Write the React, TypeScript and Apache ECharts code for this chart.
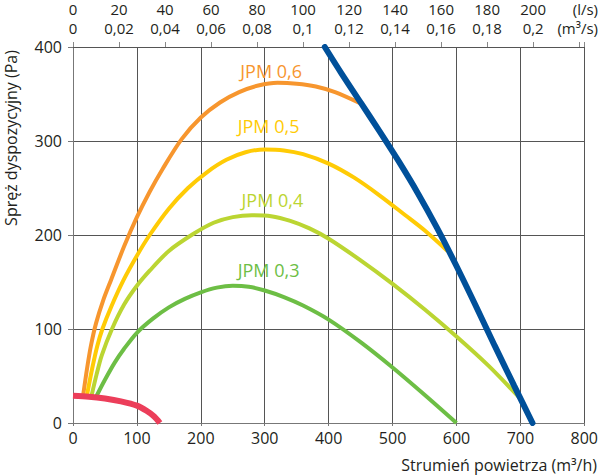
import React, { useEffect, useRef } from "react";
import * as echarts from "echarts";

// Flow (m³/h) ticks and pressure (Pa) ticks
const flowTicks = [0, 100, 200, 300, 400, 500, 600, 700, 800];
const pressureTicks = [0, 100, 200, 300, 400];
const litersPerSecondTicks = [0, 20, 40, 60, 80, 100, 120, 140, 160, 180, 200];

// JPM curves: [flow m³/h, pressure Pa]
const jpm06: number[][] = [
  [16, 30], [22, 58], [28, 82], [36, 106], [47, 130], [60, 153], [80, 188],
  [100, 219], [120, 246], [140, 270], [170, 302], [200, 325], [230, 341],
  [260, 352], [290, 359], [320, 362], [350, 361], [380, 358], [410, 352], [450, 340],
];
const jpm05: number[][] = [
  [22, 30], [30, 58], [38, 82], [46, 100], [60, 124], [79, 152], [100, 178],
  [120, 200], [150, 228], [180, 250], [210, 267], [240, 280], [270, 288],
  [300, 291], [330, 290], [360, 286], [400, 276], [440, 261], [480, 242],
  [520, 221], [550, 205], [586, 183],
];
const jpm04: number[][] = [
  [29, 29], [37, 52], [45, 72], [61, 100], [80, 126], [100, 146], [120, 162],
  [150, 183], [188, 201], [220, 213], [250, 219], [280, 221], [310, 220],
  [340, 215], [370, 207], [400, 196], [450, 173], [500, 148], [550, 121],
  [600, 92], [650, 61], [697, 28],
];
const jpm03: number[][] = [
  [37, 29], [50, 46], [65, 64], [80, 79], [100, 96], [125, 111], [150, 123],
  [175, 132], [200, 139], [225, 144], [250, 146], [275, 145], [300, 141],
  [330, 134], [360, 125], [400, 110], [450, 86], [500, 59], [550, 30], [600, 0],
];
// Upper limit (blue) and lower limit (red)
const limitMax: number[][] = [
  [394, 400], [420, 372], [450, 341], [480, 310], [510, 278], [540, 244],
  [570, 207], [600, 167], [630, 125], [660, 82], [690, 40], [719, 0],
];
const limitMin: number[][] = [
  [0, 29], [25, 28], [50, 26], [75, 23], [100, 18.5], [115, 13], [127, 7], [136, 0],
];

const curveNames = ["JPM 0,6", "JPM 0,5", "JPM 0,4", "JPM 0,3"];
const labelAnchors: number[][] = [
  [310, 375], [306, 316], [312, 237], [306, 163],
];

const COLORS = {
  jpm06: "#F7962E",
  jpm05: "#FFCB05",
  jpm04: "#BBD532",
  jpm03: "#6DBE45",
  blue: "#00509A",
  red: "#EC3E5A",
  text: "#231F20",
  grid: "#555555",
};

const FONT = "Open Sans";
const TICK_FONT = 16;
const TOP_FONT = 15;

export default function App() {
  const ref = useRef<HTMLDivElement>(null);

  useEffect(() => {
    if (!ref.current) return;
    const chart = echarts.init(ref.current, undefined, { renderer: "svg" });

    const lineSeries = (
      name: string,
      data: number[][],
      color: string,
      width: number,
      labelIdx: number,
      cap: string = "butt"
    ) => {
      const s: any = {
        name,
        type: "line",
        data,
        smooth: 0.3,
        showSymbol: false,
        symbol: "none",
        lineStyle: { color, width, cap },
        xAxisIndex: 0,
        yAxisIndex: 0,
        z: 3,
      };
      if (labelIdx >= 0) {
        s.markPoint = {
          symbol: "rect",
          symbolSize: 1,
          itemStyle: { color: "rgba(0,0,0,0)" },
          label: {
            show: true,
            position: "inside",
            formatter: curveNames[labelIdx],
            color,
            fontSize: 18,
            fontFamily: FONT,
          },
          data: [{ coord: labelAnchors[labelIdx] }],
        };
      }
      return s;
    };

    const topMax = flowTicks[flowTicks.length - 1] / 3.6;
    const lastLs = litersPerSecondTicks[litersPerSecondTicks.length - 1];

    const option: any = {
      animation: false,
      textStyle: { fontFamily: FONT },
      grid: { left: 73, right: 16, top: 47, bottom: 52, containLabel: false },
      xAxis: [
        {
          type: "value",
          position: "bottom",
          min: flowTicks[0],
          max: flowTicks[flowTicks.length - 1],
          interval: 100,
          axisLine: { show: true, onZero: false, lineStyle: { color: "#777", width: 1 } },
          axisTick: { show: true, length: 3, lineStyle: { color: "#777" } },
          axisLabel: { color: COLORS.text, fontSize: TICK_FONT, margin: 7, fontFamily: FONT },
          splitLine: { show: true, lineStyle: { color: COLORS.grid, width: 1 } },
        },
        {
          // m³/s row (with axis line and ticks)
          type: "value",
          position: "top",
          min: litersPerSecondTicks[0],
          max: topMax,
          interval: 20,
          axisLine: { show: true, onZero: false, lineStyle: { color: "#555", width: 1 } },
          axisTick: { show: true, length: 5, inside: false, lineStyle: { color: "#888" } },
          axisLabel: {
            color: COLORS.text,
            fontSize: TOP_FONT,
            lineHeight: 16,
            margin: 11,
            fontFamily: FONT,
            formatter: (v: number) => {
              if (v > lastLs + 1) return "";
              const m3s = parseFloat((v / 1000).toFixed(3));
              return String(m3s).replace(".", ",");
            },
          },
          splitLine: { show: false },
        },
        {
          // l/s row
          type: "value",
          position: "top",
          min: litersPerSecondTicks[0],
          max: topMax,
          interval: 20,
          axisLine: { show: false, onZero: false },
          axisTick: { show: false },
          axisLabel: {
            color: COLORS.text,
            fontSize: TOP_FONT,
            lineHeight: 16,
            margin: 30,
            fontFamily: FONT,
            formatter: (v: number) => (v > lastLs + 1 ? "" : String(Math.round(v))),
          },
          splitLine: { show: false },
        },
      ],
      yAxis: {
        type: "value",
        min: pressureTicks[0],
        max: pressureTicks[pressureTicks.length - 1],
        interval: 100,
        axisLine: { show: true, onZero: false, lineStyle: { color: "#777", width: 1 } },
        axisTick: { show: true, length: 5, lineStyle: { color: "#777" } },
        axisLabel: { color: COLORS.text, fontSize: TICK_FONT, margin: 11, fontFamily: FONT },
        splitLine: { show: true, lineStyle: { color: COLORS.grid, width: 1 } },
      },
      graphic: [
        {
          type: "text",
          x: 598,
          y: 9,
          style: {
            text: "(l/s)",
            fill: COLORS.text,
            font: `${TOP_FONT}px "${FONT}"`,
            textAlign: "right",
            textVerticalAlign: "middle",
          },
        },
        {
          type: "text",
          x: 598,
          y: 28,
          style: {
            text: "(m³/s)",
            fill: COLORS.text,
            font: `${TOP_FONT}px "${FONT}"`,
            textAlign: "right",
            textVerticalAlign: "middle",
          },
        },
        {
          type: "text",
          x: 597,
          y: 465,
          style: {
            text: "Strumień powietrza (m³/h)",
            fill: COLORS.text,
            font: `16px "${FONT}"`,
            textAlign: "right",
            textVerticalAlign: "middle",
          },
        },
        {
          type: "text",
          x: 10.5,
          y: 138,
          rotation: Math.PI / 2,
          style: {
            text: "Spręż dyspozycyjny (Pa)",
            fill: COLORS.text,
            font: `16px "${FONT}"`,
            textAlign: "center",
            textVerticalAlign: "middle",
          },
        },
      ],
      series: [
        lineSeries("JPM 0,6", jpm06, COLORS.jpm06, 4, 0),
        lineSeries("JPM 0,5", jpm05, COLORS.jpm05, 4, 1),
        lineSeries("JPM 0,4", jpm04, COLORS.jpm04, 4, 2),
        lineSeries("JPM 0,3", jpm03, COLORS.jpm03, 4, 3),
        { ...lineSeries("max", limitMax, COLORS.blue, 6, -1, "round"), z: 4 },
        { ...lineSeries("min", limitMin, COLORS.red, 6, -1), z: 4 },
      ],
    };

    chart.setOption(option);
    return () => chart.dispose();
  }, []);

  return (
    <div
      ref={ref}
      style={{ position: "fixed", left: 0, top: 0, width: 601, height: 475, background: "#fff" }}
    />
  );
}
